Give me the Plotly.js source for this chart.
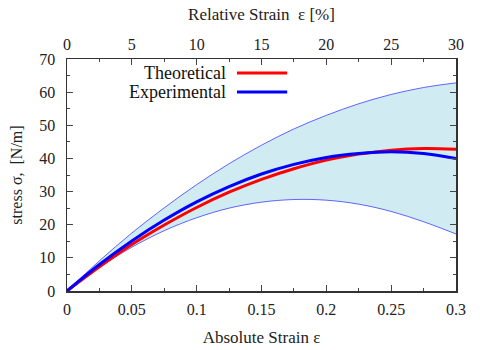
<!DOCTYPE html>
<html>
<head>
<meta charset="utf-8">
<script src="https://cdn.plot.ly/plotly-3.0.1.min.js"></script>
<style>
  html, body { margin: 0; padding: 0; background: #fff; }
  #chart { width: 489px; height: 350px; }
</style>
</head>
<body>
<div id="chart"></div>
<script>
// strain values (absolute)
var strain = [0, 0.025, 0.05, 0.075, 0.1, 0.125, 0.15, 0.175, 0.2, 0.225, 0.25, 0.275, 0.3];

// stress curves [N/m]
var theoretical = [0, 7.3, 14.0, 19.9, 25.2, 29.8, 33.7, 36.9, 39.5, 41.3, 42.5, 43.0, 42.8];
var experimental = [0, 8.0, 15.1, 21.4, 26.9, 31.5, 35.3, 38.2, 40.3, 41.5, 42.0, 41.5, 40.0];
var bandUpper = [0, 9.1, 17.5, 25.1, 32.1, 38.4, 44.0, 48.9, 53.0, 56.5, 59.3, 61.4, 62.8];
var bandLower = [0, 7.1, 13.2, 18.2, 22.1, 25.0, 26.8, 27.6, 27.4, 26.2, 24.0, 20.9, 17.2];

var legendNames = ['Theoretical', 'Experimental'];
var serif = 'Liberation Serif, Times New Roman, serif';

var data = [
    {x: strain, y: bandLower, mode: 'lines', line: {color: 'rgba(40,40,255,0.7)', width: 1, shape: 'spline'}, showlegend: false, hoverinfo: 'skip'},
    {x: strain, y: bandUpper, mode: 'lines', fill: 'tonexty', fillcolor: '#d0ebf1',
     line: {color: 'rgba(40,40,255,0.7)', width: 1, shape: 'spline'}, showlegend: false, hoverinfo: 'skip'},
    {x: strain, y: theoretical, mode: 'lines', name: legendNames[0], line: {color: '#ff0000', width: 3, shape: 'spline'}, showlegend: false},
    {x: strain, y: experimental, mode: 'lines', name: legendNames[1], line: {color: '#0000ff', width: 3, shape: 'spline'}, showlegend: false},
    // dummy trace to carry the top axis
    {x: [0, 30], y: [null, null], xaxis: 'x2', mode: 'lines', showlegend: false, hoverinfo: 'skip'}
];

//Layout
var layout = {
    width: 489,
    height: 350,
    margin: {l: 67, r: 33, t: 59, b: 59},
    plot_bgcolor: 'white',
    paper_bgcolor: 'white',
    font: {family: serif, size: 16, color: '#222'},
    showlegend: false,
    xaxis: {
        range: [0, 0.3], dtick: 0.05, tickformat: '~g',
        ticks: 'inside', ticklen: 6, tickcolor: '#444', ticklabelstandoff: 3,
        minor: {dtick: 0.025, ticks: 'inside', ticklen: 3, tickcolor: '#444'},
        showgrid: false, zeroline: false,
        showline: true, linecolor: '#333', linewidth: 1.5, mirror: 'ticks',
        title: {text: 'Absolute Strain ε', font: {family: serif, size: 17}, standoff: 14}
    },
    xaxis2: {
        overlaying: 'x', side: 'top', anchor: 'y',
        range: [0, 30], dtick: 5, ticklabelstandoff: 5,
        ticks: '', showgrid: false, zeroline: false, showline: false,
        title: {text: 'Relative Strain  ε [%]', font: {family: serif, size: 17}, standoff: 10}
    },
    yaxis: {
        range: [0, 70], dtick: 10,
        ticks: 'inside', ticklen: 6, tickcolor: '#444', ticklabelstandoff: 7,
        minor: {dtick: 5, ticks: 'inside', ticklen: 3, tickcolor: '#444'},
        showgrid: false, zeroline: false,
        showline: true, linecolor: '#333', linewidth: 1.5, mirror: 'ticks',
        title: {text: 'stress σ,  [N/m]', font: {family: serif, size: 16}, standoff: 12}
    },
    annotations: [
        {xref: 'paper', yref: 'paper', x: 0.415, y: 0.94, xanchor: 'right', yanchor: 'middle',
         text: legendNames[0], showarrow: false, font: {family: serif, size: 18, color: '#111'}},
        {xref: 'paper', yref: 'paper', x: 0.415, y: 0.858, xanchor: 'right', yanchor: 'middle',
         text: legendNames[1], showarrow: false, font: {family: serif, size: 18, color: '#111'}}
    ],
    shapes: [
        {type: 'line', xref: 'paper', yref: 'paper', x0: 0.437, x1: 0.566, y0: 0.94, y1: 0.94, line: {color: '#ff0000', width: 3}},
        {type: 'line', xref: 'paper', yref: 'paper', x0: 0.437, x1: 0.566, y0: 0.858, y1: 0.858, line: {color: '#0000ff', width: 3}}
    ]
};

//Plotting
Plotly.newPlot('chart', data, layout, {staticPlot: true});
</script>
</body>
</html>
